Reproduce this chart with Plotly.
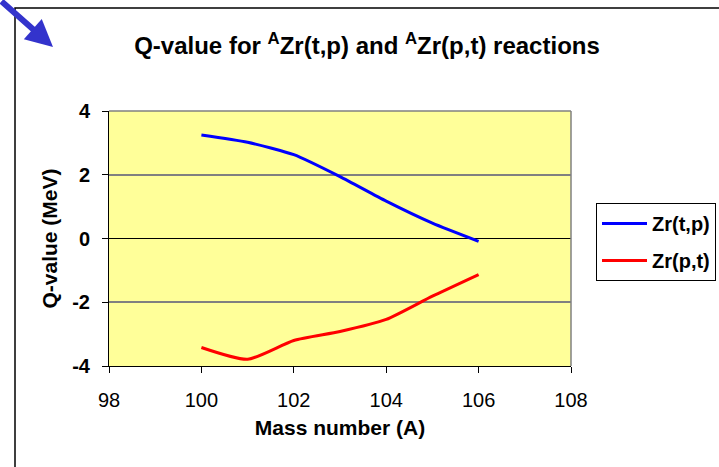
import plotly.graph_objects as go

# Data
mass_number = [100, 101, 102, 103, 104, 105, 106]
q_tp = [3.25, 3.02, 2.63, 1.94, 1.17, 0.48, -0.09]
q_pt = [-3.42, -3.79, -3.20, -2.92, -2.54, -1.81, -1.13]
series_names = ["Zr(t,p)", "Zr(p,t)"]
x_ticks = [98, 100, 102, 104, 106, 108]
y_ticks = [-4, -2, 0, 2, 4]
y_tick_text = ["-4", "-2", "0", "2", "4"]

FONT = "Arial, Liberation Sans, sans-serif"
W, H = 719, 467
L, R, T, B = 109, 148, 111, 101
PW, PH = W - L - R, H - T - B

def px_x(px):
    return (px - L) / PW

def px_y(py):
    return (H - B - py) / PH

fig = go.Figure()
fig.add_trace(go.Scatter(x=mass_number, y=q_tp, mode="lines", name=series_names[0],
                         line=dict(color="#0000FF", width=3, shape="spline", smoothing=0.6),
                         legendgroup="a"))
fig.add_trace(go.Scatter(x=mass_number, y=q_pt, mode="lines", name=series_names[1],
                         line=dict(color="#FF0000", width=3, shape="spline", smoothing=0.6),
                         legendgroup="b"))

fig.update_layout(
    width=W, height=H,
    margin=dict(l=L, r=R, t=T, b=B, autoexpand=False),
    paper_bgcolor="white",
    plot_bgcolor="#FFFF99",
    font=dict(family=FONT, color="black"),
    title=dict(text="<b>Q-value for <sup>A</sup>Zr(t,p) and <sup>A</sup>Zr(p,t) reactions</b>",
               font=dict(size=24, family=FONT, color="black"),
               x=px_x(367), xref="paper", xanchor="center",
               y=1 - 46 / H, yref="container", yanchor="middle"),
    xaxis=dict(range=[98, 108], tickvals=x_ticks, showgrid=False, zeroline=False,
               showline=True, linecolor="black", linewidth=1,
               ticks="outside", ticklen=6, tickcolor="black",
               tickfont=dict(size=20, family=FONT, color="black"),
               ticklabelstandoff=10,
               title=dict(text="<b>Mass number (A)</b>", font=dict(size=21, family=FONT),
                          standoff=10)),
    yaxis=dict(range=[-4, 4], tickvals=y_ticks, ticktext=y_tick_text,
               showgrid=True, gridcolor="#808080", gridwidth=1.5,
               zeroline=True, zerolinecolor="black", zerolinewidth=1,
               showline=True, linecolor="black", linewidth=1,
               ticks="outside", ticklen=6, tickcolor="black",
               tickfont=dict(size=20, family=FONT, color="black", weight="bold"),
               ticklabelstandoff=8,
               title=dict(text="<b>Q-value (MeV)</b>", font=dict(size=21, family=FONT),
                          standoff=8)),
    legend=dict(x=px_x(596), y=px_y(203), xanchor="left", yanchor="top",
                bordercolor="black", borderwidth=1, bgcolor="white",
                font=dict(size=20, family=FONT, color="black", weight="bold"),
                traceorder="grouped", tracegroupgap=8, itemwidth=45),
    showlegend=True,
)

# Plot-area border (top/right in grey)
fig.add_shape(type="line", xref="paper", yref="paper", x0=0, x1=1, y0=1, y1=1,
              line=dict(color="#808080", width=1.5))
fig.add_shape(type="line", xref="paper", yref="paper", x0=1, x1=1, y0=0, y1=1,
              line=dict(color="#808080", width=1.5))
# Chart-area border
fig.add_shape(type="rect", xref="paper", yref="paper",
              x0=px_x(15), x1=px_x(730), y0=px_y(480), y1=px_y(8),
              line=dict(color="black", width=1.5), fillcolor="rgba(0,0,0,0)")
# Blue pointer arrow at top-left
fig.add_annotation(x=px_x(53), y=px_y(47), xref="paper", yref="paper",
                   ax=-60, ay=-55, text="", showarrow=True,
                   arrowhead=2, arrowsize=0.9, arrowwidth=6, arrowcolor="#3333CC", standoff=0)

fig.write_html("out.html", config={"displayModeBar": False},
               post_script="document.body.style.margin='0';document.body.style.overflow='hidden';")
